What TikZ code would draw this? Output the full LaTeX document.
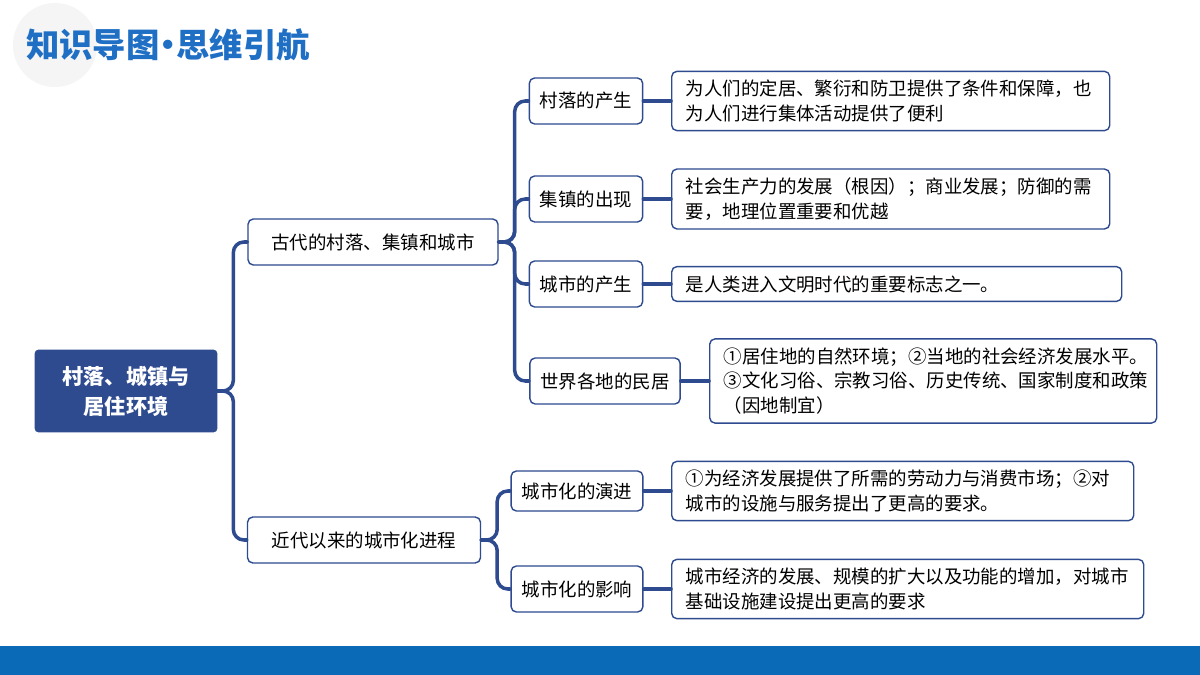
\documentclass[tikz,border=0pt]{standalone}
\usepackage{fontspec}
\setmainfont{Noto Sans CJK SC}
\usetikzlibrary{positioning}
\definecolor{navy}{HTML}{2E4B8F}
\definecolor{barblue}{HTML}{0A6AB8}
\definecolor{titleblue}{HTML}{1F6FC5}
\begin{document}
\begin{tikzpicture}[x=0.02cm,y=-0.02cm, line cap=round, line join=round,
  every node/.style={font=\fontsize{10.5}{14}\selectfont},
  root/.style={draw=navy, fill=navy, rounded corners=2pt, text=white, font=\fontsize{12}{17}\bfseries, align=center, minimum width=3.64cm, minimum height=1.64cm},
  topic/.style={draw=navy, thick, rounded corners=3pt, fill=white, minimum height=0.92cm, inner xsep=6pt},
  leaf/.style={draw=navy, thick, rounded corners=3pt, fill=white, align=left, anchor=west, inner xsep=8pt, inner ysep=5pt},
  link/.style={navy, line width=2pt, rounded corners=6pt}]
\useasboundingbox (0,0) rectangle (1200,675);
\fill[white] (0,0) rectangle (1200,675);

% title and bottom bar
\fill[gray!8] (55,45) circle (42);
\node[anchor=west, text=titleblue, font=\fontsize{19}{24}\bfseries] (title) at (20,45) {知识导图\kern-0.25em·\kern-0.25em思维引航};
\fill[barblue] (0,646) rectangle (1200,675);

% root
\node[root] (root) at (126,391) {村落、城镇与\\居住环境};

% first level
\node[topic, minimum width=5cm] (old) at (373,242) {古代的村落、集镇和城市};
\node[topic, minimum width=4.66cm] (new) at (364,540) {近代以来的城市化进程};

% second level
\node[topic, minimum width=2.24cm] (village) at (586,101) {村落的产生};
\node[topic, minimum width=2.24cm] (market) at (586,199) {集镇的出现};
\node[topic, minimum width=2.24cm] (city) at (586,284) {城市的产生};
\node[topic, minimum width=3cm] (house) at (605,381) {世界各地的民居};
\node[topic, minimum width=2.6cm, minimum height=0.8cm] (evolve) at (577,491) {城市化的演进};
\node[topic, minimum width=2.6cm] (effect) at (577,589) {城市化的影响};

% leaves
\node[leaf, text width=8.2cm] (l1) at (671,101) {为人们的定居、繁衍和防卫提供了条件和保障，也\\为人们进行集体活动提供了便利};
\node[leaf, text width=8.2cm] (l2) at (671,199) {社会生产力的发展（根因）；商业发展；防御的需\\要，地理位置重要和优越};
\node[leaf, text width=8.44cm] (l3) at (671,284) {是人类进入文明时代的重要标志之一。};
\node[leaf, text width=8.38cm] (l4) at (709,381) {①居住地的自然环境；②当地的社会经济发展水平。\\③文化习俗、宗教习俗、历史传统、国家制度和政策\\（因地制宜）};
\node[leaf, text width=8.68cm] (l5) at (671,491) {①为经济发展提供了所需的劳动力与消费市场；②对\\城市的设施与服务提出了更高的要求。};
\node[leaf, text width=8.88cm] (l6) at (671,589) {城市经济的发展、规模的扩大以及功能的增加，对城市\\基础设施建设提出更高的要求};

% connectors
\draw[link] (root.east) -- ++(16,0) |- (old.west);
\draw[link] (root.east) -- ++(16,0) |- (new.west);
\foreach \t in {village,market,city,house}
  \draw[link] (old.east) -- ++(16,0) |- (\t.west);
\foreach \t in {evolve,effect}
  \draw[link] (new.east) -- ++(16,0) |- (\t.west);
\draw[link] (village) -- (l1);
\draw[link] (market) -- (l2);
\draw[link] (city) -- (l3);
\draw[link] (house) -- (l4);
\draw[link] (evolve) -- (l5);
\draw[link] (effect) -- (l6);
\end{tikzpicture}
\end{document}
